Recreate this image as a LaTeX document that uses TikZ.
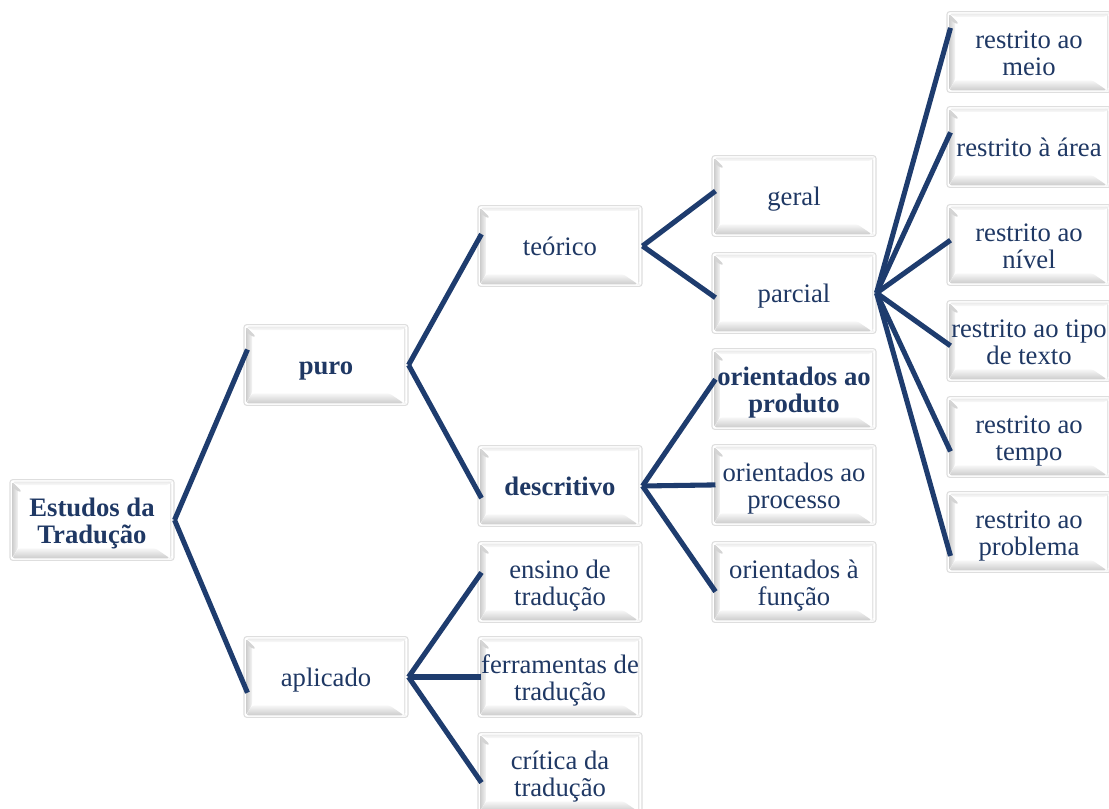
\documentclass[tikz,border=0pt]{standalone}
\usepackage{fontspec}
\setmainfont{Liberation Serif}
\usetikzlibrary{calc}
\definecolor{navy}{RGB}{31,56,100}
\definecolor{lnc}{RGB}{30,60,110}
\newsavebox\tbbox
\newcommand\tb[1]{\sbox\tbbox{\begin{tabular}{@{}c@{}}#1\end{tabular}}\ht\tbbox=\dimexpr\ht\tbbox+6.5pt\relax\usebox\tbbox}
\tikzset{
  bx/.style={draw=black!13, line width=0.8pt, rounded corners=2pt, fill=white,
    minimum width=123pt, minimum height=60.5pt, inner sep=0pt,
    text=navy, font=\fontsize{20pt}{20.5pt}\selectfont,
    path picture={
      \coordinate (pa) at (path picture bounding box.north west);
      \coordinate (pb) at (path picture bounding box.south east);
      \fill[left color=black!20, right color=black!4]
        ($(pa)+(1.5pt,-1.5pt)$) -- ($(pa)+(6pt,-7pt)$) -- ($(pa|-pb)+(6pt,9pt)$) -- ($(pa|-pb)+(1.5pt,1.5pt)$) -- cycle;
      \fill[black!17] ($(pa)+(1.5pt,-1.5pt)$) -- ($(pa)+(9pt,-9pt)$) -- ($(pa)+(6pt,-9pt)$) -- ($(pa)+(1.5pt,-5pt)$) -- cycle;
      \fill[top color=black!3, bottom color=black!20]
        ($(pa|-pb)+(1.5pt,1.5pt)$) -- ($(pa|-pb)+(6pt,9pt)$) -- ($(pb)+(-14pt,9pt)$) -- ($(pb)+(-3pt,1.5pt)$) -- cycle;
      \fill[top color=black!8, bottom color=black!2]
        ($(pa)+(1.5pt,-1.5pt)$) -- ($(pa-|pb)+(-2pt,-1.5pt)$) -- ($(pa-|pb)+(-4pt,-4pt)$) -- ($(pa)+(6pt,-4pt)$) -- cycle;
      \fill[black!10] ($(pa-|pb)+(-2pt,-1.5pt)$) rectangle ($(pb)+(-3pt,1.5pt)$);
    }},
  ln/.style={draw=lnc, line width=3.8pt}
}
\newcommand\linkto[2]{\draw[ln] let \p1=(#1.east), \p2=(#2.west) in (\p1) -- (\x2+3pt,{\y2+0.1*(\y2-\y1)});}
\begin{document}
\begin{tikzpicture}[x=0.75pt,y=-0.75pt]
\useasboundingbox (0,0) rectangle (1109,809);
\node[bx] (E) at (92,520) {\tb{\textbf{Estudos da}\\\textbf{Tradução}}};
\node[bx] (puro) at (326,365) {\tb{\textbf{puro}}};
\node[bx] (apl) at (326,677) {\tb{aplicado}};
\node[bx] (teo) at (560,246) {\tb{teórico}};
\node[bx] (desc) at (560,486) {\tb{\textbf{descritivo}}};
\node[bx] (ens) at (560,582) {\tb{ensino de\\tradução}};
\node[bx] (fer) at (560,677) {\tb{ferramentas de\\tradução}};
\node[bx] (cri) at (560,773) {\tb{crítica da\\tradução}};
\node[bx] (ger) at (794,196) {\tb{geral}};
\node[bx] (par) at (794,293) {\tb{parcial}};
\node[bx] (prod) at (794,389) {\tb{\textbf{orientados ao}\\\textbf{produto}}};
\node[bx] (proc) at (794,485) {\tb{orientados ao\\processo}};
\node[bx] (func) at (794,582) {\tb{orientados à\\função}};
\node[bx] (r1) at (1029,52) {\tb{restrito ao\\meio}};
\node[bx] (r2) at (1029,147) {\tb{restrito à área}};
\node[bx] (r3) at (1029,245) {\tb{restrito ao\\nível}};
\node[bx] (r4) at (1029,341) {\tb{restrito ao tipo\\de texto}};
\node[bx] (r5) at (1029,437) {\tb{restrito ao\\tempo}};
\node[bx] (r6) at (1029,532) {\tb{restrito ao\\problema}};
\linkto{E}{puro}
\linkto{E}{apl}
\linkto{puro}{teo}
\linkto{puro}{desc}
\linkto{apl}{ens}
\linkto{apl}{fer}
\linkto{apl}{cri}
\linkto{teo}{ger}
\linkto{teo}{par}
\linkto{desc}{prod}
\linkto{desc}{proc}
\linkto{desc}{func}
\linkto{par}{r1}
\linkto{par}{r2}
\linkto{par}{r3}
\linkto{par}{r4}
\linkto{par}{r5}
\linkto{par}{r6}
\end{tikzpicture}
\end{document}
